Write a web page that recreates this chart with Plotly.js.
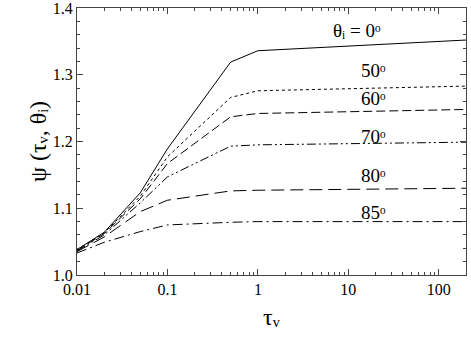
<!DOCTYPE html>
<html>
<head>
<meta charset="utf-8">
<script src="https://cdn.plot.ly/plotly-3.0.1.min.js"></script>
<style>
  html, body { margin: 0; padding: 0; background: #fff; }
  #plot { width: 471px; height: 347px; }
</style>
</head>
<body>
<div id="plot"></div>
<script>
// optical depth sample points
const tau = [0.01, 0.02, 0.05, 0.1, 0.5, 1, 200];

// psi(tau, theta_i) per incidence angle
const psi0  = [1.038, 1.064, 1.123, 1.189, 1.319, 1.336, 1.352];
const psi50 = [1.038, 1.063, 1.118, 1.177, 1.266, 1.276, 1.283];
const psi60 = [1.037, 1.062, 1.114, 1.167, 1.237, 1.242, 1.248];
const psi70 = [1.036, 1.060, 1.108, 1.147, 1.193, 1.195, 1.199];
const psi80 = [1.035, 1.057, 1.095, 1.112, 1.126, 1.127, 1.130];
const psi85 = [1.033, 1.049, 1.065, 1.075, 1.079, 1.080, 1.080];

// curve labels (unicode sub/superscripts instead of <sub>/<sup>)
const curveLabels = ['θᵢ = 0ᵒ', '50ᵒ', '60ᵒ', '70ᵒ', '80ᵒ', '85ᵒ'];
const labelX = [12.6, 19, 19, 19, 19, 19];
const labelY = [1.366, 1.307, 1.265, 1.208, 1.149, 1.093];

const yTickVals = [1.0, 1.1, 1.2, 1.3, 1.4];
const yTickText = ['1.0', '1.1', '1.2', '1.3', '1.4'];

const serif = 'Liberation Serif';

const series = [
  { y: psi0,  dash: 'solid' },
  { y: psi50, dash: 'dot' },
  { y: psi60, dash: '9px,4px' },
  { y: psi70, dash: '9px,3px,2px,3px,2px,3px' },
  { y: psi80, dash: '13px,6px' },
  { y: psi85, dash: '10px,4px,2px,4px' }
];

const data = series.map(s => ({
  x: tau,
  y: s.y,
  mode: 'lines',
  line: { color: '#000', width: 1, dash: s.dash }
}));

const annotations = curveLabels.map((txt, i) => ({
  x: Math.log10(labelX[i]),
  y: labelY[i],
  xref: 'x', yref: 'y',
  text: txt,
  showarrow: false,
  font: { family: serif, size: 19, color: '#000' }
}));

// axis titles
annotations.push({
  x: 0.5, y: -0.215, xref: 'paper', yref: 'paper',
  text: 'τᵥ', showarrow: false,
  font: { family: serif, size: 24, color: '#000' }
});
annotations.push({
  x: -0.14, y: 0.5, xref: 'paper', yref: 'paper',
  text: 'ψ (τᵥ, θᵢ)', showarrow: false, textangle: -90,
  font: { family: serif, size: 24, color: '#000' }
});

const layout = {
  width: 471,
  height: 347,
  margin: { l: 77, r: 5, t: 8, b: 72 },
  showlegend: false,
  xaxis: {
    type: 'log',
    range: [-2, Math.log10(200)],
    dtick: 1,
    showline: true,
    mirror: 'ticks',
    ticks: 'inside',
    ticklen: 6,
    tickcolor: '#444',
    showgrid: false,
    zeroline: false,
    linecolor: '#444',
    linewidth: 1,
    ticklabeloverflow: 'allow',
    tickfont: { family: serif, size: 16, color: '#000' },
    minor: { ticks: 'inside', ticklen: 3, tickcolor: '#444' }
  },
  yaxis: {
    range: [1.0, 1.4],
    tickvals: yTickVals,
    ticktext: yTickText,
    showline: true,
    mirror: 'ticks',
    ticks: 'inside',
    ticklen: 6,
    tickcolor: '#444',
    showgrid: false,
    zeroline: false,
    linecolor: '#444',
    linewidth: 1,
    ticklabeloverflow: 'allow',
    tickfont: { family: serif, size: 16, color: '#000' },
    minor: { ticks: 'inside', ticklen: 3, tickcolor: '#444', dtick: 0.02 }
  },
  annotations: annotations
};

Plotly.newPlot('plot', data, layout, { displayModeBar: false });
</script>
</body>
</html>
